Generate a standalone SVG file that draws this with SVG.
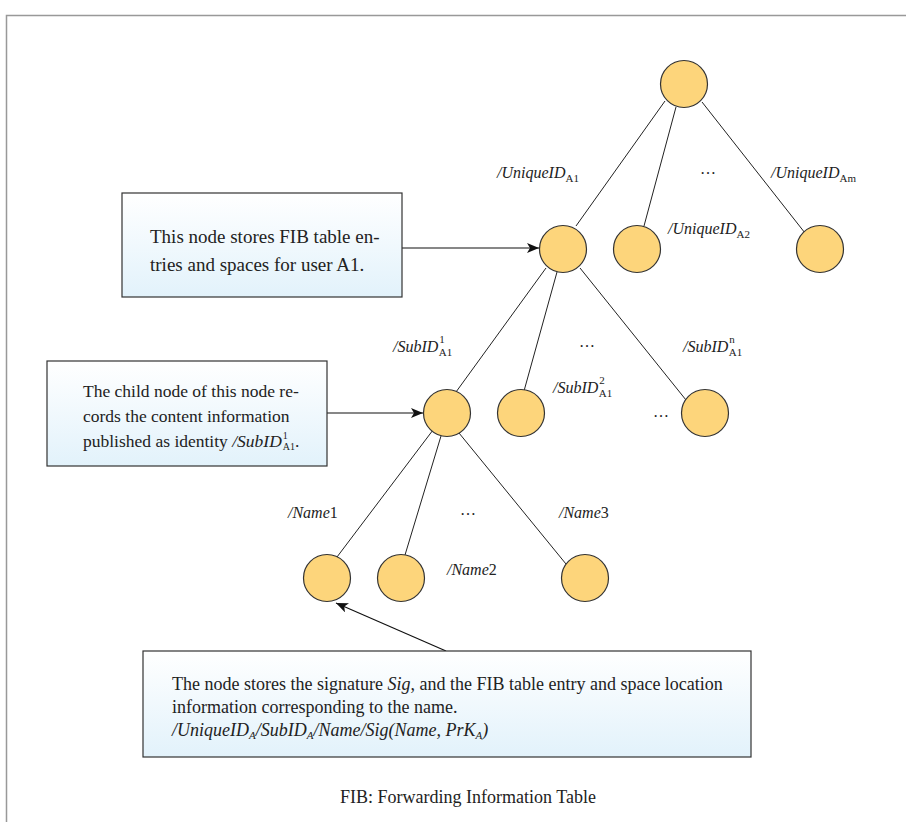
<svg xmlns="http://www.w3.org/2000/svg" width="906" height="822" viewBox="0 0 906 822">
<defs>
<linearGradient id="boxg" x1="0" y1="0" x2="0" y2="1">
<stop offset="0" stop-color="#ffffff"/>
<stop offset="1" stop-color="#e2f2fb"/>
</linearGradient>
<marker id="arr" viewBox="0 0 12 10" refX="12" refY="5" markerWidth="12" markerHeight="10" markerUnits="userSpaceOnUse" orient="auto">
<path d="M0,0 L12,5 L0,10 L3,5 Z" fill="#111"/>
</marker>
</defs>
<style>
.node{fill:#fdd57b;stroke:#333;stroke-width:1.2}
.edge{stroke:#222;stroke-width:1;fill:none}
.arrow{stroke:#111;stroke-width:1.2;fill:none;marker-end:url(#arr)}
.box{fill:url(#boxg);stroke:#333;stroke-width:1.2}
.t{font-family:"Liberation Serif","Times New Roman",serif;fill:#222}
.lbl{font-family:"Liberation Serif","Times New Roman",serif;font-style:italic;font-size:16px;fill:#222}
.sub{font-style:normal;font-size:11px}
.dots{font-family:"Liberation Serif",serif;font-size:16px;fill:#222;text-anchor:middle}
</style>
<rect x="6.5" y="15.5" width="1000" height="1000" fill="none" stroke="#999" stroke-width="1.5"/>

<g id="connectors">
<line class="edge" x1="665" y1="101" x2="576" y2="226"/>
<line class="edge" x1="676" y1="107" x2="644" y2="226"/>
<line class="edge" x1="702" y1="102" x2="805" y2="233"/>
<line class="edge" x1="546" y1="268" x2="456" y2="392"/>
<line class="edge" x1="557" y1="272" x2="524" y2="391"/>
<line class="edge" x1="580" y1="268" x2="686" y2="400"/>
<line class="edge" x1="433" y1="430" x2="337" y2="557"/>
<line class="edge" x1="441" y1="436" x2="405" y2="555"/>
<line class="edge" x1="459" y1="433" x2="566" y2="564"/>
<line class="arrow" x1="402" y1="248" x2="539" y2="248"/>
<line class="arrow" x1="327" y1="413" x2="423" y2="413"/>
<line class="arrow" x1="446" y1="651" x2="336" y2="603"/>
</g>

<g id="root"><circle class="node" cx="684" cy="84" r="23.5"/></g>
<g id="nodeA1"><circle class="node" cx="563" cy="249" r="23.5"/></g>
<g id="nodeA2"><circle class="node" cx="637" cy="249" r="23.5"/></g>
<g id="nodeAm"><circle class="node" cx="820" cy="249" r="23.5"/></g>
<g id="sub1"><circle class="node" cx="447" cy="413" r="23.5"/></g>
<g id="sub2"><circle class="node" cx="521" cy="413" r="23.5"/></g>
<g id="subn"><circle class="node" cx="705" cy="413" r="23.5"/></g>
<g id="name1"><circle class="node" cx="327" cy="578" r="23.5"/></g>
<g id="name2"><circle class="node" cx="401" cy="578" r="23.5"/></g>
<g id="name3"><circle class="node" cx="585" cy="578" r="23.5"/></g>

<g id="labels">
<text class="lbl" x="497" y="178">/UniqueID<tspan class="sub" dy="4">A1</tspan></text>
<text class="dots" x="708" y="174">…</text>
<text class="lbl" x="771" y="178">/UniqueID<tspan class="sub" dy="4">Am</tspan></text>
<text class="lbl" x="668" y="234">/UniqueID<tspan class="sub" dy="4">A2</tspan></text>
<text class="lbl" x="393" y="352">/SubID<tspan class="sub" dx="1" dy="-9">1</tspan><tspan class="sub" dx="-6" dy="13">A1</tspan></text>
<text class="dots" x="587" y="347">…</text>
<text class="lbl" x="683" y="352">/SubID<tspan class="sub" font-style="italic" dx="1" dy="-9">n</tspan><tspan class="sub" dx="-6" dy="13">A1</tspan></text>
<text class="lbl" x="553" y="393">/SubID<tspan class="sub" dx="1" dy="-9">2</tspan><tspan class="sub" dx="-6" dy="13">A1</tspan></text>
<text class="dots" x="661" y="417">…</text>
<text class="lbl" x="288" y="518">/Name<tspan font-style="normal">1</tspan></text>
<text class="dots" x="468" y="515">…</text>
<text class="lbl" x="559" y="518">/Name<tspan font-style="normal">3</tspan></text>
<text class="lbl" x="447" y="575">/Name<tspan font-style="normal">2</tspan></text>
</g>

<g id="box1">
<rect class="box" x="122" y="193" width="280" height="104"/>
<text class="t" font-size="19" x="150" y="243">This node stores FIB table en-</text>
<text class="t" font-size="19" x="150" y="271">tries and spaces for user A1.</text>
</g>

<g id="box2">
<rect class="box" x="47" y="361" width="280" height="105"/>
<text class="t" font-size="17.5" x="83" y="397">The child node of this node re-</text>
<text class="t" font-size="17.5" x="83" y="422">cords the content information</text>
<text class="t" font-size="17.5" x="83" y="447">published as identity <tspan font-style="italic">/SubID</tspan><tspan font-size="10" dx="1" dy="-8">1</tspan><tspan font-size="10" dx="-5" dy="11">A1</tspan><tspan dy="-3">.</tspan></text>
</g>

<g id="box3">
<rect class="box" x="143" y="651" width="608" height="106"/>
<text class="t" font-size="18" x="172" y="690">The node stores the signature <tspan font-style="italic">Sig</tspan>, and the FIB table entry and space location</text>
<text class="t" font-size="18" x="172" y="713">information corresponding to the name.</text>
<text class="t" font-size="18" font-style="italic" x="172" y="736">/UniqueID<tspan font-size="11" dy="3">A</tspan><tspan dy="-3">/SubID</tspan><tspan font-size="11" dy="3">A</tspan><tspan dy="-3">/Name/Sig(Name, PrK</tspan><tspan font-size="11" dy="3">A</tspan><tspan dy="-3">)</tspan></text>
</g>

<text id="caption" class="t" font-size="18" x="340" y="803">FIB: Forwarding Information Table</text>
</svg>
